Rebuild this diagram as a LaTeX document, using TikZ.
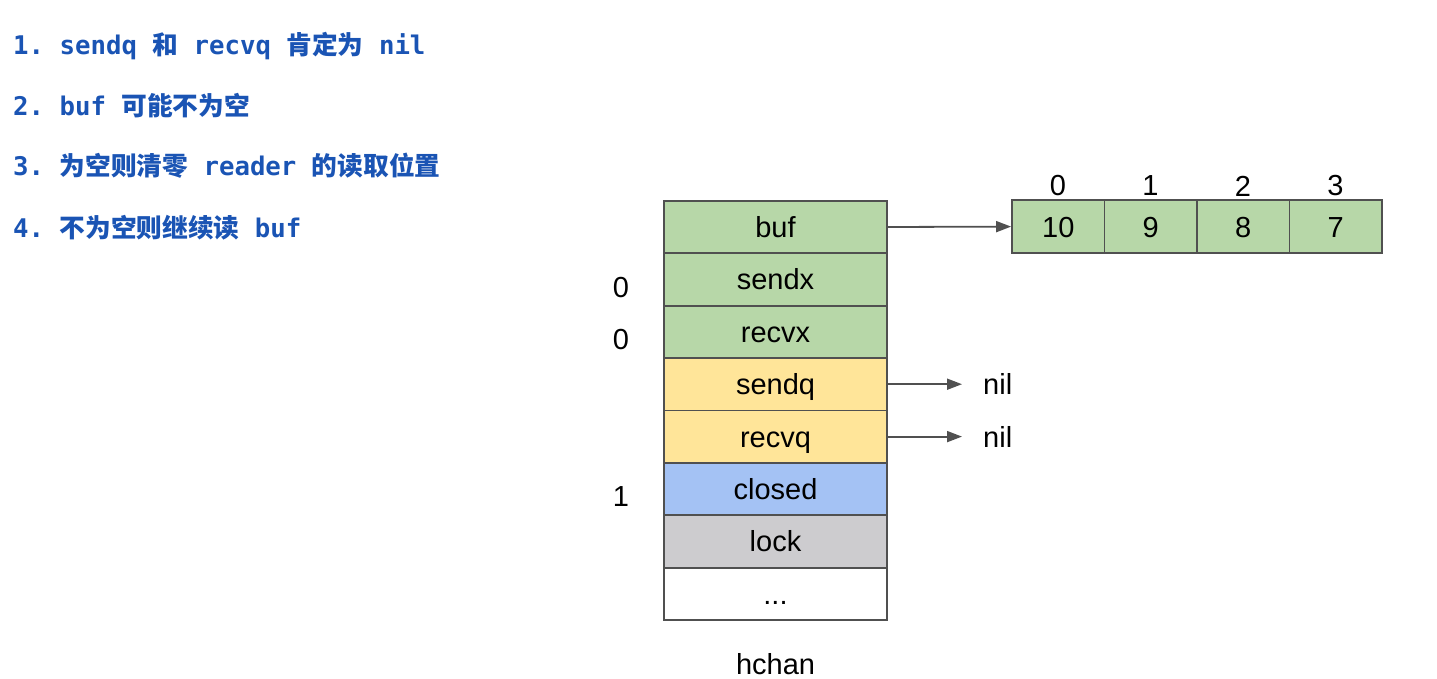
\documentclass[tikz,border=0pt]{standalone}
\usepackage{fontspec}
\setmainfont{Liberation Sans}
\setmonofont{DejaVu Sans Mono}
\newfontfamily\zhfont{Noto Sans CJK SC Bold}
\usetikzlibrary{arrows.meta}

\definecolor{fieldgreen}{RGB}{183,215,168}
\definecolor{fieldyellow}{RGB}{255,229,153}
\definecolor{fieldblue}{RGB}{164,194,244}
\definecolor{fieldgray}{RGB}{205,204,207}
\definecolor{edgegray}{RGB}{80,80,80}
\definecolor{noteblue}{RGB}{26,84,180}

\newcommand\zh[1]{{\zhfont #1}}

\tikzset{
	field/.style = {draw = edgegray, line width = 1.8pt, inner sep = 0pt, minimum width = 223pt, minimum height = 52.4pt, text height = 21pt, text depth = 0pt, font = \fontsize{29}{31}\selectfont},
	cell/.style = {field, fill = fieldgreen, minimum width = 92.5pt, minimum height = 52.4pt},
	lbl/.style = {inner sep = 0pt, font = \fontsize{29}{31}\selectfont},
	note/.style = {anchor = base west, inner sep = 0pt, text = noteblue, font = \fontsize{25.7}{28}\selectfont\ttfamily\bfseries},
	ptr/.style = {draw = edgegray, line width = 1.8pt, -{Triangle[length=15pt, width=11pt]}}
}

\begin{document}
\begin{tikzpicture}[x=1pt, y=-1pt]

		\useasboundingbox (0, 0) rectangle (1437, 679);

		\node[note] (note1) at (13, 55) {1. sendq \zh{和} recvq \zh{肯定为} nil};
		\node[note] (note2) at (13, 116) {2. buf \zh{可能不为空}};
		\node[note] (note3) at (13, 176) {3. \zh{为空则清零} reader \zh{的读取位置}};
		\node[note] (note4) at (13, 237) {4. \zh{不为空则继续读} buf};


		\node[field, fill = fieldgreen] (buf) at (775.5, 227) {buf};
		\node[field, fill = fieldgreen] (sendx) at (775.5, 279.4) {sendx};
		\node[field, fill = fieldgreen] (recvx) at (775.5, 331.8) {recvx};
		\node[field, fill = fieldyellow] (sendq) at (775.5, 384.2) {sendq};
		\node[field, fill = fieldyellow] (recvq) at (775.5, 436.6) {recvq};
		\node[field, fill = fieldblue] (closed) at (775.5, 489) {closed};
		\node[field, fill = fieldgray] (lock) at (775.5, 541.4) {lock};
		\node[field, fill = white] (rest) at (775.5, 593.8) {...};
		\node[lbl] (hchan) at (775.5, 664) {hchan};

		\node[lbl] (sendxval) at (621, 287.5) {0};
		\node[lbl] (recvxval) at (621, 340) {0};
		\node[lbl] (closedval) at (621, 497) {1};


		\node[cell] (c0) at (1058.25, 226.6) {10};
		\node[cell] (c1) at (1150.75, 226.6) {9};
		\node[cell] (c2) at (1243.25, 226.6) {8};
		\node[cell] (c3) at (1335.75, 226.6) {7};

		\node[lbl] (i0) at (1058, 186) {0};
		\node[lbl] (i1) at (1150.5, 186) {1};
		\node[lbl] (i2) at (1243, 186) {2};
		\node[lbl] (i3) at (1335.5, 186) {3};

		\node[lbl, anchor = west] (nilsend) at (983, 384) {nil};
		\node[lbl, anchor = west] (nilrecv) at (983, 436.5) {nil};

		\draw[ptr] (buf.east) -- (c0.west);
		\draw[ptr, shorten >= 21pt] (sendq.east) -- (sendq.east -| nilsend.west);
		\draw[ptr, shorten >= 21pt] (recvq.east) -- (recvq.east -| nilrecv.west);

	\end{tikzpicture}
\end{document}
